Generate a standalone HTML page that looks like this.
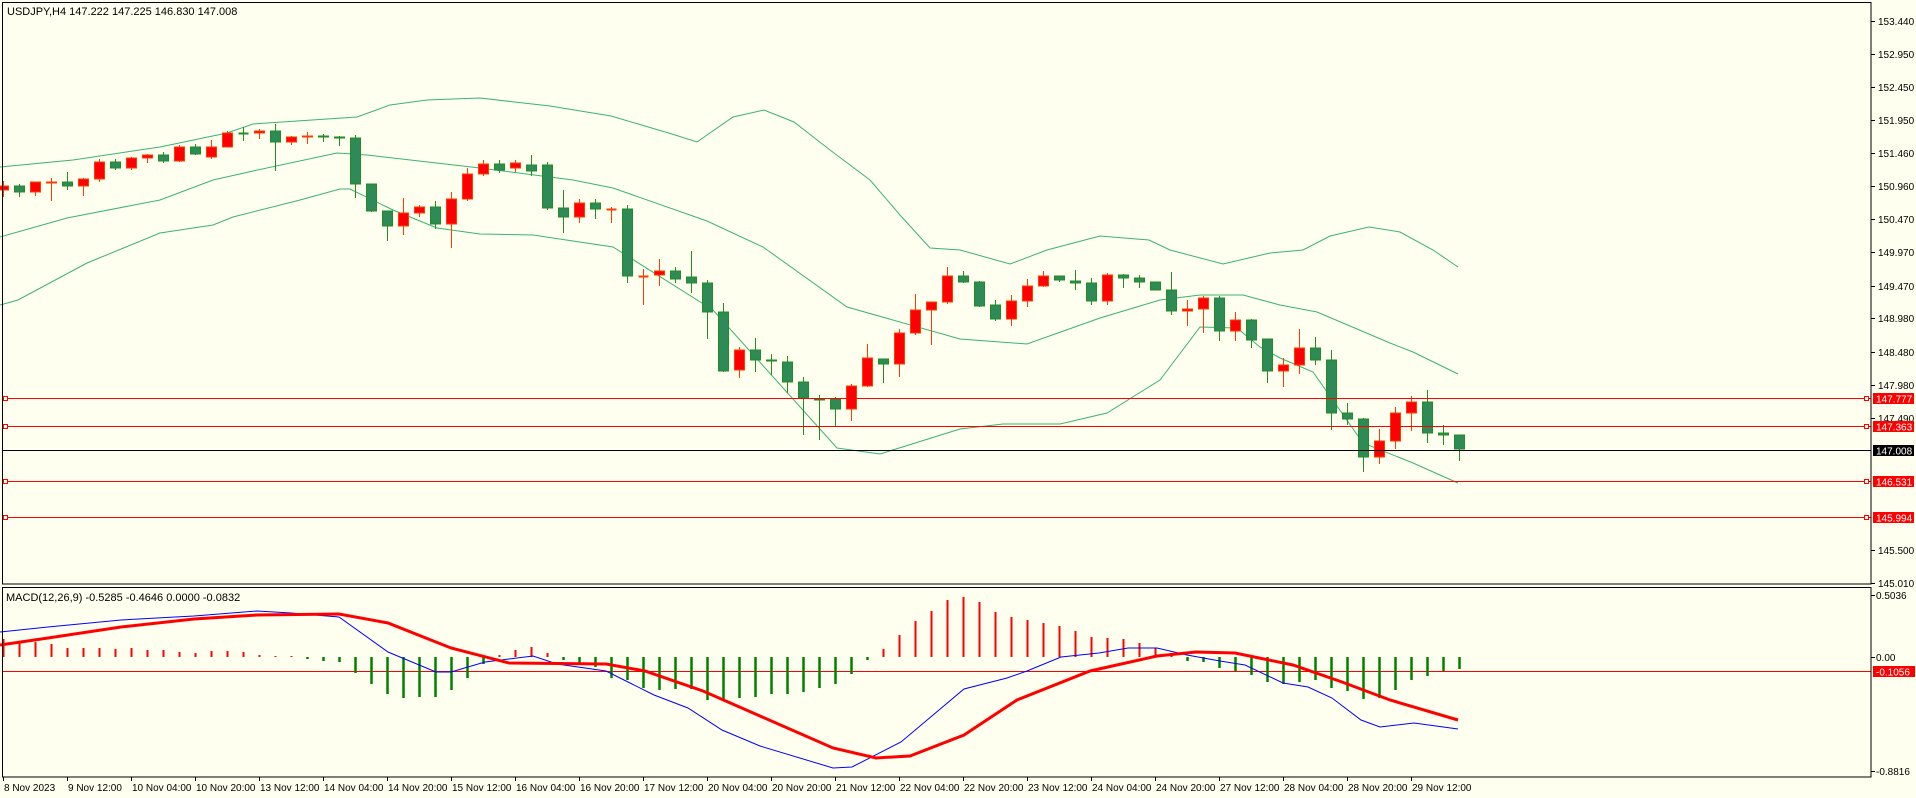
<!DOCTYPE html>
<html><head><meta charset="utf-8"><style>
html,body{margin:0;padding:0;background:#fffff0;}
svg{display:block;font-family:"Liberation Sans",sans-serif;}
</style></head><body>
<svg id="s" width="1916" height="798" viewBox="0 0 1916 798" xmlns="http://www.w3.org/2000/svg">
<rect x="0" y="0" width="1916" height="798" fill="#fffff0"/>
<g id="bands" fill="none" stroke="#3cb371" stroke-width="1">
<polyline points="0,167 73,160 160,147 227,133 253,124 357,117 390,105 427,100 480,98 550,106 611,116 672,134 697,142 733,117 764,110 794,122 830,150 870,180 900,215 930,248 960,250 1010,264 1047,250 1100,236 1149,240 1170,250 1223,264 1270,253 1303,250 1330,236 1369,227 1400,232 1433,250 1458,267"/>
<polyline points="0,237 67,218 160,200 213,180 253,171 337,153 367,155 480,168 573,180 613,188 707,221 763,247 847,307 960,339 1027,344 1100,318 1160,300 1200,295 1243,295 1280,305 1317,312 1390,343 1413,352 1458,374"/>
<polyline points="0,305 18,300 87,263 160,233 213,225 233,217 300,200 340,189 350,189 393,210 437,228 480,234 533,235 613,247 713,310 837,448 880,454 960,429 1003,424 1060,424 1107,413 1160,380 1200,327 1237,328 1260,347 1280,358 1313,372 1363,443 1413,463 1458,483"/>
</g>
<g id="candles"></g>
<g stroke-width="1">
<line x1="2" y1="398.5" x2="1871" y2="398.5" stroke="#ff0000"/>
<line x1="2" y1="426.5" x2="1871" y2="426.5" stroke="#ff0000"/>
<line x1="2" y1="450.5" x2="1871" y2="450.5" stroke="#000"/>
<line x1="2" y1="481.5" x2="1871" y2="481.5" stroke="#ff0000"/>
<line x1="2" y1="517.5" x2="1871" y2="517.5" stroke="#ff0000"/>
<g fill="#fffff0" stroke="#ff0000">
<rect x="3.5" y="396.5" width="4" height="4"/><rect x="1864.5" y="396.5" width="4" height="4"/>
<rect x="3.5" y="424.5" width="4" height="4"/><rect x="1864.5" y="424.5" width="4" height="4"/>
<rect x="3.5" y="479.5" width="4" height="4"/><rect x="1864.5" y="479.5" width="4" height="4"/>
<rect x="3.5" y="515.5" width="4" height="4"/><rect x="1864.5" y="515.5" width="4" height="4"/>
</g>
</g>
<line x1="2" y1="671.5" x2="1871" y2="671.5" stroke="#ff0000"/>
<g id="hist"></g>
<polyline fill="none" stroke="#0000ff" stroke-width="1" points="0,632 48,627 121,620 194,616 257,611 291,613 339,617 388,652 436,672 451,672 485,662 533,656 557,664 606,671 630,683 654,695 688,708 722,730 760,746 833,768 852,767 901,742 964,689 1007,678 1027,671 1061,657 1099,653 1128,648 1157,648 1187,655 1220,661 1245,665 1283,683 1308,687 1332,698 1361,720 1380,727 1414,723 1458,729"/>
<polyline fill="none" stroke="#ff0000" stroke-width="3" points="0,645 48,638 121,627 194,619 257,615 339,614 388,623 451,648 509,663 606,664 645,671 703,691 760,716 833,748 876,758 910,756 964,735 1017,700 1090,671 1157,656 1196,652 1235,653 1293,665 1342,682 1390,700 1458,720"/>
<rect x="2.5" y="2.5" width="1868.5" height="581.5" fill="none" stroke="#000" stroke-width="1"/>
<rect x="2.5" y="587.5" width="1868.5" height="189.5" fill="none" stroke="#000" stroke-width="1"/>
<g font-size="11" fill="#000">
<text x="7" y="15">USDJPY,H4  147.222 147.225 146.830 147.008</text>
<text x="6" y="601">MACD(12,26,9) -0.5285 -0.4646 0.0000 -0.0832</text>
</g>
<g id="ticks" stroke="#000"></g>
<g font-size="10" fill="#000">
<text x="1878" y="25">153.440</text>
<text x="1878" y="58">152.950</text>
<text x="1878" y="91">152.450</text>
<text x="1878" y="124">151.950</text>
<text x="1878" y="157">151.460</text>
<text x="1878" y="190">150.960</text>
<text x="1878" y="223">150.470</text>
<text x="1878" y="256">149.970</text>
<text x="1878" y="290">149.470</text>
<text x="1878" y="322">148.980</text>
<text x="1878" y="356">148.480</text>
<text x="1878" y="389">147.980</text>
<text x="1878" y="422">147.490</text>
<text x="1878" y="554">145.500</text>
<text x="1878" y="587">145.010</text>
<text x="1876" y="599">0.5036</text>
<text x="1876" y="661">0.00</text>
<text x="1876" y="775">-0.8816</text>
</g>
<g font-size="10">
<rect x="1873" y="393" width="41" height="11" fill="#ff0000"/><text x="1876" y="402.5" fill="#fff">147.777</text>
<rect x="1873" y="421" width="41" height="11" fill="#ff0000"/><text x="1876" y="430.5" fill="#fff">147.363</text>
<rect x="1873" y="445" width="41" height="11" fill="#000"/><text x="1876" y="454.5" fill="#fff">147.008</text>
<rect x="1873" y="476" width="41" height="11" fill="#ff0000"/><text x="1876" y="485.5" fill="#fff">146.531</text>
<rect x="1873" y="512" width="41" height="11" fill="#ff0000"/><text x="1876" y="521.5" fill="#fff">145.994</text>
<rect x="1873" y="666" width="42" height="11" fill="#ff0000"/><text x="1876" y="675.5" fill="#fff">-0.1056</text>
</g>
<g font-size="10" fill="#000">
<text x="4" y="791">8 Nov 2023</text>
<text x="68" y="791">9 Nov 12:00</text>
<text x="132" y="791">10 Nov 04:00</text>
<text x="196" y="791">10 Nov 20:00</text>
<text x="260" y="791">13 Nov 12:00</text>
<text x="324" y="791">14 Nov 04:00</text>
<text x="388" y="791">14 Nov 20:00</text>
<text x="452" y="791">15 Nov 12:00</text>
<text x="516" y="791">16 Nov 04:00</text>
<text x="580" y="791">16 Nov 20:00</text>
<text x="644" y="791">17 Nov 12:00</text>
<text x="708" y="791">20 Nov 04:00</text>
<text x="772" y="791">20 Nov 20:00</text>
<text x="836" y="791">21 Nov 12:00</text>
<text x="900" y="791">22 Nov 04:00</text>
<text x="964" y="791">22 Nov 20:00</text>
<text x="1028" y="791">23 Nov 12:00</text>
<text x="1092" y="791">24 Nov 04:00</text>
<text x="1156" y="791">24 Nov 20:00</text>
<text x="1220" y="791">27 Nov 12:00</text>
<text x="1284" y="791">28 Nov 04:00</text>
<text x="1348" y="791">28 Nov 20:00</text>
<text x="1412" y="791">29 Nov 12:00</text>
</g>
</svg>
<script>
var NS="http://www.w3.org/2000/svg";
function el(p,t,a){var e=document.createElementNS(NS,t);for(var k in a)e.setAttribute(k,a[k]);p.appendChild(e);return e;}
var C=[[186,190,181,197,1],[186,192,184,197,0],[182,192,182,196,1],[182,183,178,201,1],[182,186,172,190,0],[179,186,178,196,1],[162,179,159,182,1],[162,168,159,170,0],[158,168,157,170,1],[155,158,154,163,1],
[155,161,152,163,0],[147,161,145,162,1],[147,154,144,155,0],[147,157,140,159,1],[133,147,131,147,1],[133,133,127,141,0],[131,133,129,139,1],[131,142,124,171,0],[137,142,136,145,1],[136,137,132,144,1],
[136,137,134,142,0],[137,138,136,146,0],[138,184,135,198,0],[184,211,184,212,0],[211,226,211,241,0],[213,226,198,235,1],[207,213,205,217,1],[207,224,201,229,0],[199,224,192,248,1],[174,199,168,201,1],
[164,174,160,176,1],[164,170,160,173,0],[163,168,160,172,1],[165,171,155,176,0],[165,208,162,210,0],[208,217,190,233,0],[203,217,199,223,1],[203,209,199,219,0],[209,209,207,223,1],[209,276,205,283,0],
[276,276,269,305,1],[271,275,259,286,1],[271,279,267,283,0],[277,283,251,293,0],[283,312,280,339,0],[312,371,303,372,0],[350,370,347,378,1],[350,360,338,372,0],[360,361,354,375,0],[362,382,356,393,0],
[382,398,377,435,0],[399,400,395,440,0],[399,409,397,427,0],[386,409,384,421,1],[358,386,344,387,1],[359,364,359,383,0],[333,364,329,377,1],[310,333,294,335,1],[302,310,302,345,1],[276,302,267,304,1],
[276,282,271,283,0],[282,306,281,307,0],[305,319,300,321,0],[301,319,295,326,1],[286,301,279,307,1],[276,286,271,287,1],[276,280,276,282,0],[281,283,270,290,0],[283,301,278,305,0],[275,301,273,305,1],
[275,278,274,288,0],[278,282,275,288,0],[282,290,282,290,0],[290,311,272,315,0],[309,311,300,326,1],[298,309,296,333,1],[298,331,296,341,0],[320,331,312,341,1],[320,340,319,348,0],[339,371,339,383,0],
[365,371,358,387,1],[348,365,329,374,1],[348,360,337,365,0],[360,413,350,430,0],[413,419,403,425,0],[419,457,418,472,0],[441,457,429,464,1],[413,441,407,449,1],[402,413,396,431,1],[402,433,390,443,0],
[433,435,425,445,0],[435,449,435,461,0]];
var g=document.getElementById("candles");
C.forEach(function(c,i){var x=Math.round(3.3+16*i)+0.5;var col=c[4]?"#ff3c00":"#228b22";var fill=c[4]?"#ff0000":"#2e8b57";
el(g,"line",{x1:x,y1:c[2],x2:x,y2:c[3],stroke:col,"stroke-width":1});
var h=c[1]-c[0];if(h<1){el(g,"line",{x1:x-5,y1:c[0]+0.5,x2:x+5,y2:c[0]+0.5,stroke:col,"stroke-width":2});}
else el(g,"rect",{x:x-5,y:c[0],width:10,height:h,fill:fill,stroke:col,"stroke-width":1});});
var H=[639,642,642,644,648,648,648,649,648,650,650,652,653,651,651,652,655,656,656,659,661,662,673,684,694,698,697,697,690,678,664,655,650,647,653,660,663,667,678,680,688,690,689,689,700,701,698,697,694,694,692,688,684,674,660,649,635,621,611,600,597,602,612,617,620,623,626,631,637,638,639,643,648,653,661,662,668,671,675,682,684,682,680,688,691,699,698,690,680,676,671,669];
var hg=document.getElementById("hist");
H.forEach(function(v,i){var x=Math.round(3.3+16*i)+0.5;var up=v<657;
el(hg,"line",{x1:x,y1:657,x2:x,y2:v,stroke:up?"#ff0000":"#008000","stroke-width":up?2:2.5});});
var t=document.getElementById("ticks");
[21,54,87,120,153,186,219,252,286,318,352,385,418,550,583,595,657,771].forEach(function(y){el(t,"line",{x1:1871,y1:y+0.5,x2:1875,y2:y+0.5});});
for(var i=0;i<92;i+=4){var x=Math.round(3.3+16*i)+0.5;el(t,"line",{x1:x,y1:777,x2:x,y2:781});}
</script>
</body></html>
